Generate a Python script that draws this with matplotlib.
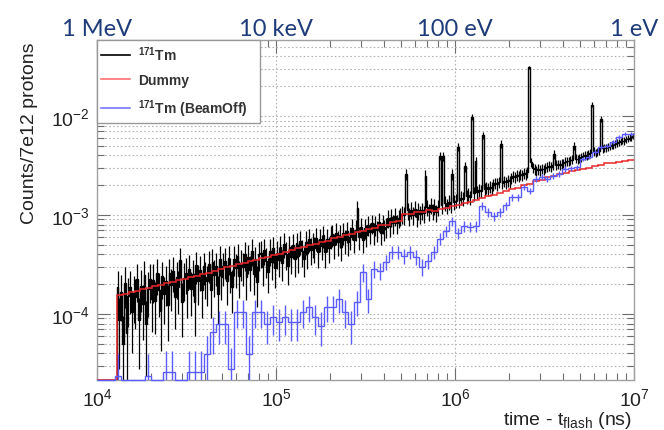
import numpy as np
import matplotlib
matplotlib.use("Agg")
import matplotlib.pyplot as plt
from matplotlib.lines import Line2D
from matplotlib.ticker import LogLocator, NullFormatter
import matplotlib.transforms as mtransforms

plt.rcParams['font.family'] = ['Liberation Sans', 'DejaVu Sans']
plt.rcParams['mathtext.fontset'] = 'custom'
plt.rcParams['mathtext.rm'] = 'Liberation Sans'
plt.rcParams['mathtext.it'] = 'Liberation Sans:italic'
plt.rcParams['mathtext.bf'] = 'Liberation Sans:bold'
plt.rcParams['axes.unicode_minus'] = False

# ---------------------------------------------------------------- ranges
t_min, t_max = 1e4, 1e7
y_min, y_max = 2.15e-5, 5.86e-2

# log10(time / ns) span of each histogram
tm_span = (4.11, 7.0)
dummy_span = (4.11, 7.0)
beamoff_span = (4.0, 7.0)

# ---------------------------------------------------------------- data
# Counts per 7e12 protons, in units of 1e-4
tm171 = np.array([
    1.87, 0.87, 1.66, 0.50, 2.07, 0.64, 1.52, 1.85, 1.05, 1.62,
    1.47, 2.26, 0.87, 1.92, 1.26, 2.46, 0.80, 1.78, 2.23, 1.40,
    2.22, 1.36, 2.57, 1.76, 1.08, 2.40, 1.58, 2.14, 1.24, 2.57,
    1.97, 2.69, 1.47, 2.38, 1.85, 3.50, 1.31, 2.32, 2.62, 1.75,
    2.87, 1.80, 2.53, 1.33, 3.12, 2.16, 2.77, 1.74, 3.05, 2.38,
    2.14, 3.17, 1.75, 3.38, 2.50, 3.02, 1.60, 3.61, 2.37, 3.03,
    3.43, 2.16, 3.67, 2.66, 1.88, 3.62, 2.93, 3.86, 2.42, 3.28,
    3.00, 4.01, 2.35, 3.77, 2.77, 4.34, 2.55, 3.58, 2.10, 4.01,
    4.17, 2.99, 4.42, 3.46, 2.65, 4.37, 3.36, 4.60, 2.92, 4.13,
    3.54, 4.78, 3.29, 5.09, 4.05, 3.07, 4.71, 3.78, 5.02, 3.58,
    5.15, 3.86, 5.44, 4.28, 3.58, 5.37, 4.14, 5.70, 4.46, 5.14,
    4.62, 5.90, 4.23, 5.74, 4.91, 6.22, 4.20, 5.73, 4.67, 6.14,
    6.36, 5.02, 6.63, 5.35, 6.26, 4.79, 6.59, 5.53, 6.88, 5.30,
    5.94, 7.30, 5.61, 7.12, 11.8, 5.96, 7.62, 5.60, 7.40, 6.33,
    7.90, 6.74, 8.27, 6.65, 7.89, 7.01, 8.56, 6.60, 8.24, 7.19,
    7.64, 9.24, 7.74, 9.50, 8.25, 9.77, 8.25, 9.35, 9.76, 10.2,
    9.98, 26.0, 11.1, 9.66, 11.3, 9.98, 11.6, 9.45, 11.1, 10.2,
    11.1, 10.4, 25.0, 12.0, 10.7, 12.5, 10.9, 12.3, 10.6, 12.0,
    39.5, 12.5, 39.0, 13.2, 12.4, 13.6, 12.8, 26.0, 13.5, 14.0,
    49.0, 14.2, 15.0, 14.6, 31.0, 15.4, 16.0, 15.2, 98.0, 16.5,
    35.0, 17.2, 18.0, 17.6, 64.0, 18.4, 19.0, 18.2, 19.3, 18.8,
    20.2, 21.0, 20.5, 21.5, 52.0, 21.2, 22.0, 21.4, 22.3, 21.9,
    23.6, 24.5, 24.0, 25.2, 24.8, 25.8, 25.3, 26.5, 26.0, 27.2,
    310., 34.0, 30.0, 29.0, 28.2, 29.0, 28.4, 29.4, 28.8, 29.8,
    30.5, 31.2, 30.8, 31.8, 41.0, 32.0, 32.6, 32.1, 33.0, 33.5,
    34.5, 35.2, 34.8, 35.8, 36.2, 50.0, 37.0, 36.5, 37.6, 38.2,
    39.5, 40.3, 39.8, 41.0, 42.0, 130., 44.0, 42.5, 43.5, 44.5,
    93.0, 47.0, 48.0, 47.5, 49.0, 50.0, 51.0, 50.5, 52.5, 53.5,
    54.5, 55.5, 56.5, 56.0, 58.0, 59.0, 60.5, 61.5, 63.0,
]) * 1e-4
tm171_counts_per_unit = 2.5e4      # raw events per unit of normalised yield

dummy = np.array([
    1.54, 1.60, 1.66, 1.70, 1.78, 1.83, 1.91, 1.96, 2.05, 2.11,
    2.20, 2.26, 2.37, 2.43, 2.55, 2.61, 2.74, 2.82, 2.95, 3.03,
    3.17, 3.26, 3.42, 3.50, 3.68, 3.77, 3.96, 4.06, 4.27, 4.38,
    4.62, 4.73, 4.98, 5.10, 5.38, 5.50, 5.80, 5.95, 6.27, 6.42,
    6.76, 6.93, 7.29, 7.45, 7.84, 8.00, 8.42, 8.62, 10.2, 10.3,
    10.7, 10.7, 11.1, 11.0, 11.5, 11.7, 12.3, 12.5, 13.2, 13.5,
    14.3, 14.7, 15.5, 15.9, 16.8, 17.3, 18.3, 18.9, 20.1, 20.7,
    22.0, 22.8, 24.0, 24.5, 25.7, 26.3, 27.5, 28.2, 29.4, 30.0,
    31.2, 31.8, 33.2, 33.6, 34.6, 35.0, 36.1,
]) * 1e-4

beam_off = np.array([
    0.0, 0.0, 0.0, 0.235, 0.0, 0.0, 0.0, 0.0, 0.235, 0.0,
    0.0, 0.26, 0.26, 0.0, 0.0, 0.26, 0.26, 0.26, 0.395, 0.66,
    0.79, 0.79, 0.28, 1.05, 1.05, 0.395, 1.05, 1.05, 0.79, 0.93,
    0.83, 0.93, 0.83, 0.83, 1.05, 1.18, 0.93, 0.76, 1.18, 1.18,
    1.42, 1.05, 0.79, 1.32, 2.65, 1.42, 2.85, 2.72, 3.35, 4.23,
    4.23, 3.85, 4.23, 3.77, 3.00, 3.43, 4.23, 5.73, 6.89, 8.68,
    6.50, 7.70, 7.60, 7.70, 12.3, 10.7, 9.80, 10.7, 12.5, 15.2,
    15.2, 19.2, 17.5, 23.1, 24.2, 23.1, 24.7, 25.9, 29.2, 29.8,
    30.5, 36.8, 38.5, 43.3, 48.6, 49.8, 54.6, 61.3, 65.8, 65.8,
]) * 1e-4
beam_off_counts_per_unit = 9.5e4   # raw events per unit of normalised yield

energy_labels = ["1 MeV", "10 keV", "100 eV", "1 eV"]
energy_times = [1e4, 1e5, 1e6, 1e7]

# ---------------------------------------------------------------- styling
c_tm = "#000000"
c_dummy = "#e8282b"
c_beam = "#5b5bff"
c_text = "#222222"
c_frame = "#a0a0a0"
c_grid = "#b4b4b4"
c_energy = "#1f3c7a"

fig = plt.figure(figsize=(6.64, 4.31), dpi=100)
ax = fig.add_axes([97 / 664, 1 - 381 / 431, 537 / 664, 340 / 431])
ax.set_xscale("log")
ax.set_yscale("log")
ax.set_xlim(t_min, t_max)
ax.set_ylim(y_min, y_max)


def edges_for(span, n):
    return np.logspace(span[0], span[1], n + 1)


def with_leading_edge(values, edges):
    # empty region before the first filled bin sits on the lower frame edge
    return np.r_[y_min, values], np.r_[t_min, edges]


def poisson_bars(ax, values, edges, counts_per_unit, color, lw, z):
    centers = np.sqrt(edges[:-1] * edges[1:])
    filled = values > 0
    v = values[filled]
    sigma = np.sqrt(v / counts_per_unit)
    lower = np.minimum(sigma, v - 0.5 * y_min)
    ax.errorbar(centers[filled], v, yerr=[lower, sigma], fmt="none",
                ecolor=color, elinewidth=lw, capsize=0, zorder=z)


# 171Tm sample
tm_edges = edges_for(tm_span, len(tm171))
tm_vals, tm_full_edges = with_leading_edge(tm171, tm_edges)
ax.stairs(tm_vals, tm_full_edges, baseline=None, color=c_tm, lw=1.0, zorder=2)
poisson_bars(ax, tm171, tm_edges, tm171_counts_per_unit, c_tm, 0.9, 2)

# Dummy (empty holder)
d_vals, d_edges = with_leading_edge(dummy, edges_for(dummy_span, len(dummy)))
ax.stairs(d_vals, d_edges, baseline=None, color=c_dummy, lw=1.1, zorder=3)

# 171Tm with beam off
b_edges = edges_for(beamoff_span, len(beam_off))
b_plot = np.where(beam_off > 0, beam_off, y_min)
ax.stairs(b_plot, b_edges, baseline=None, color=c_beam, lw=1.0, zorder=4,
          clip_on=False)
poisson_bars(ax, beam_off, b_edges, beam_off_counts_per_unit, c_beam, 1.0, 4)

# ---------------------------------------------------------------- axes
ax.xaxis.set_major_locator(LogLocator(base=10, numticks=10))
ax.xaxis.set_minor_locator(LogLocator(base=10, subs=np.arange(2, 10), numticks=40))
ax.xaxis.set_minor_formatter(NullFormatter())
ax.yaxis.set_major_locator(LogLocator(base=10, numticks=10))
ax.yaxis.set_minor_locator(LogLocator(base=10, subs=np.arange(2, 10), numticks=40))
ax.yaxis.set_minor_formatter(NullFormatter())

ax.grid(True, which="major", axis="both", ls=(0, (1.5, 2)), color=c_grid, lw=0.8)
ax.grid(True, which="minor", axis="y", ls=(0, (1.5, 2)), color=c_grid, lw=0.8)
ax.set_axisbelow(True)

ax.tick_params(which="both", direction="in", top=True, right=True,
               color="#6e6e6e", width=0.8, labelsize=14, labelcolor=c_text)
ax.tick_params(which="major", length=9)
ax.tick_params(which="minor", length=5)
ax.tick_params(axis="x", pad=5)
ax.tick_params(axis="y", pad=5)
for sp in ax.spines.values():
    sp.set_color(c_frame)
    sp.set_linewidth(1.0)

fig.text(30 / 664, 1 - 42 / 431, "Counts/7e12 protons", rotation=90,
         ha="center", va="top", fontsize=14, color=c_text)
fig.text(632 / 664, 1 - 425 / 431, r"time - t$_{\rm flash}$ (ns)",
         ha="right", va="baseline", fontsize=14, color=c_text)

# neutron energies corresponding to the flight times
energy_tf = mtransforms.blended_transform_factory(ax.transData, fig.transFigure)
for lab, t in zip(energy_labels, energy_times):
    ax.text(t, 1 - 36 / 431, lab, transform=energy_tf, ha="center",
            va="baseline", fontsize=17, color=c_energy,
            family=["Lato", "DejaVu Sans"], clip_on=False)

# ---------------------------------------------------------------- legend
handles = [
    Line2D([], [], color=c_tm, lw=1.2),
    Line2D([], [], color="#ff7070", lw=1.2),
    Line2D([], [], color="#7878ff", lw=1.2),
]
labels = [r"$^{\mathbf{171}}$Tm", "Dummy", r"$^{\mathbf{171}}$Tm (BeamOff)   "]
leg = ax.legend(handles, labels, loc="upper left", bbox_to_anchor=(0, 1),
                borderaxespad=0, frameon=True, fancybox=False, framealpha=1,
                edgecolor="#999999", prop={"size": 10, "weight": "bold"},
                handlelength=2.1, handletextpad=0.55, labelspacing=0.75,
                borderpad=0.3)
leg.get_frame().set_linewidth(1.0)
for txt in leg.get_texts():
    txt.set_color("#333333")
leg.set_zorder(10)

fig.savefig("out.png", dpi=100)
